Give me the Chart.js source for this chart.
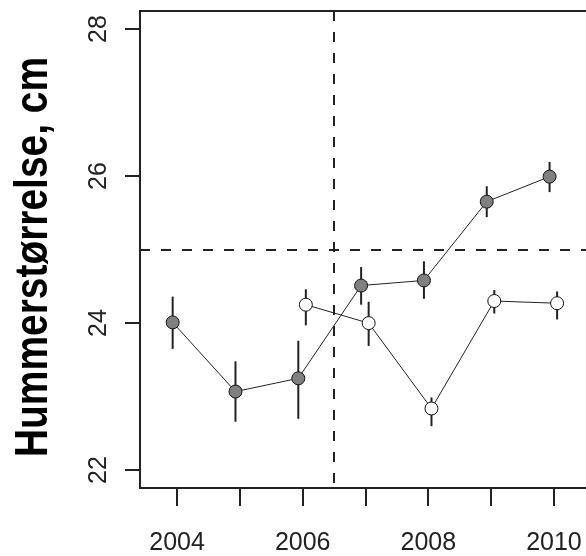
<!DOCTYPE html>
<html>
<head>
<meta charset="utf-8">
<script src="https://cdn.jsdelivr.net/npm/chart.js@4/dist/chart.umd.min.js"></script>
<style>
  html, body { margin: 0; padding: 0; background: #fff; }
  canvas { display: block; }
</style>
</head>
<body>
<canvas id="graphiqueHummer" width="586" height="556"></canvas>
<script>
// aar og verdier lest av figuren
var aarA = [2004, 2005, 2006, 2007, 2008, 2009, 2010];
var snittA = [24.01, 23.07, 23.25, 24.51, 24.58, 25.65, 25.99];
var nedreA = [23.65, 22.66, 22.70, 24.25, 24.33, 25.44, 25.78];
var ovreA = [24.36, 23.48, 23.76, 24.76, 24.84, 25.86, 26.19];

var aarB = [2006, 2007, 2008, 2009, 2010];
var snittB = [24.25, 24.00, 22.84, 24.30, 24.27];
var nedreB = [23.97, 23.69, 22.60, 24.13, 24.05];
var ovreB = [24.46, 24.29, 22.99, 24.45, 24.43];

var xTicks = [2004, 2005, 2006, 2007, 2008, 2009, 2010];
var xEtiketter = [2004, 2006, 2008, 2010];
var yTicks = [22, 24, 26, 28];
var refLinjeY = 25;
var refLinjeX = 2006.5;
var forskyvA = -0.07, forskyvB = 0.05;
var ytittel = 'Hummerstørrelse, cm';

function punkter(aar, verdi, forskyv) {
    return aar.map(function(a, i) { return { x: a + forskyv, y: verdi[i] }; });
}

var feilstolper = {
    id: 'feilstolper',
    beforeDatasetsDraw: function(chart) {
        var ctx = chart.ctx, xs = chart.scales.x, ys = chart.scales.y, ca = chart.chartArea;
        ctx.save();
        // stiplede referanselinjer
        ctx.strokeStyle = '#222';
        ctx.lineWidth = 2;
        ctx.setLineDash([10, 11]);
        var py = Math.round(ys.getPixelForValue(refLinjeY));
        ctx.beginPath(); ctx.moveTo(ca.left, py); ctx.lineTo(ca.right, py); ctx.stroke();
        var px = Math.round(xs.getPixelForValue(refLinjeX));
        ctx.beginPath(); ctx.moveTo(px, ca.top); ctx.lineTo(px, ca.bottom); ctx.stroke();
        ctx.setLineDash([]);
        // feilstolper
        function tegn(aar, lo, hi, forskyv) {
            aar.forEach(function(a, i) {
                var x = xs.getPixelForValue(a + forskyv);
                ctx.beginPath();
                ctx.moveTo(x, ys.getPixelForValue(lo[i]));
                ctx.lineTo(x, ys.getPixelForValue(hi[i]));
                ctx.stroke();
            });
        }
        ctx.lineWidth = 2;
        tegn(aarA, nedreA, ovreA, forskyvA);
        tegn(aarB, nedreB, ovreB, forskyvB);
        ctx.restore();
    },
    afterDraw: function(chart) {
        var ctx = chart.ctx, xs = chart.scales.x, ys = chart.scales.y, ca = chart.chartArea;
        ctx.save();
        ctx.strokeStyle = '#222';
        ctx.fillStyle = '#222';
        ctx.lineWidth = 2;
        // ramme (høyre side faller utenfor bildet)
        ctx.beginPath();
        ctx.moveTo(ca.right, ca.top); ctx.lineTo(ca.left, ca.top);
        ctx.lineTo(ca.left, ca.bottom); ctx.lineTo(ca.right, ca.bottom);
        ctx.stroke();
        // x-akse
        ctx.font = '25px "Liberation Sans", Arial, sans-serif';
        ctx.textAlign = 'center';
        ctx.textBaseline = 'alphabetic';
        xTicks.forEach(function(t) {
            var x = Math.round(xs.getPixelForValue(t));
            ctx.beginPath(); ctx.moveTo(x, ca.bottom); ctx.lineTo(x, ca.bottom + 18); ctx.stroke();
        });
        xEtiketter.forEach(function(t) {
            ctx.fillText(String(t), xs.getPixelForValue(t), 550);
        });
        // y-akse
        yTicks.forEach(function(t) {
            var y = Math.round(ys.getPixelForValue(t));
            ctx.beginPath(); ctx.moveTo(ca.left, y); ctx.lineTo(ca.left - 15, y); ctx.stroke();
            ctx.save();
            ctx.translate(106, y);
            ctx.rotate(-Math.PI / 2);
            ctx.fillText(String(t), 0, 0);
            ctx.restore();
        });
        // aksetittel
        ctx.fillStyle = '#000';
        ctx.font = 'bold 46px "Liberation Sans", Arial, sans-serif';
        var bredde = ctx.measureText(ytittel).width;
        ctx.translate(47, 257);
        ctx.rotate(-Math.PI / 2);
        ctx.scale(400 / bredde, 1);
        ctx.fillText(ytittel, 0, 0);
        ctx.restore();
    }
};

var ctx = document.getElementById('graphiqueHummer').getContext('2d');
var graf = new Chart(ctx, {
    type: 'scatter',
    data: {
        datasets: [{
            label: 'A',
            data: punkter(aarA, snittA, forskyvA),
            showLine: true,
            borderColor: '#222',
            borderWidth: 1,
            pointRadius: 6.5,
            pointBorderWidth: 1,
            pointBorderColor: '#111',
            pointBackgroundColor: '#808080'
        }, {
            label: 'B',
            data: punkter(aarB, snittB, forskyvB),
            showLine: true,
            borderColor: '#222',
            borderWidth: 1,
            pointRadius: 6.5,
            pointBorderWidth: 1,
            pointBorderColor: '#111',
            pointBackgroundColor: '#ffffff'
        }]
    },
    options: {
        responsive: false,
        animation: false,
        layout: { autoPadding: false, padding: { left: 140, top: 11, right: 0, bottom: 68 } },
        plugins: { legend: { display: false }, tooltip: { enabled: false } },
        scales: {
            x: { type: 'linear', min: 2003.41, max: 2010.51, display: false },
            y: { type: 'linear', min: 21.76, max: 28.24, display: false }
        }
    },
    plugins: [feilstolper]
});
</script>
</body>
</html>
